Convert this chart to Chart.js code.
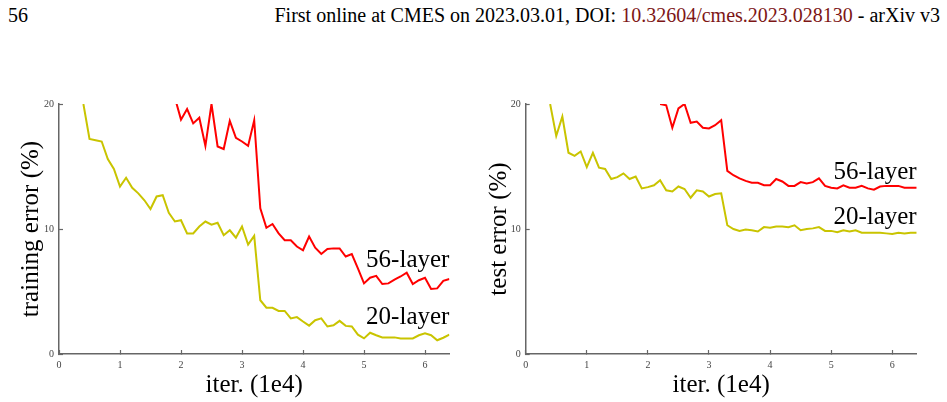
<!DOCTYPE html>
<html>
<head>
<meta charset="utf-8">
<script src="https://cdn.jsdelivr.net/npm/chart.js@4.4.1/dist/chart.umd.min.js"></script>
<style>
  html, body { margin: 0; padding: 0; background: #fff; }
  body { width: 947px; height: 402px; position: relative; overflow: hidden; font-family: "Liberation Serif", serif; }
  .hdr { position: absolute; top: 4px; font-size: 20px; line-height: 23px; color: #000; white-space: nowrap; }
  #pg { left: 8px; }
  #info { right: 7px; }
  #info .doi { color: #7d1616; }
  .box { position: absolute; top: 80px; }
  #boxL { left: 0; width: 470px; height: 322px; }
  #boxR { left: 470px; width: 477px; height: 322px; }
</style>
</head>
<body>
<div class="hdr" id="pg">56</div>
<div class="hdr" id="info">First online at CMES on 2023.03.01, DOI: <span class="doi">10.32604/cmes.2023.028130</span> - arXiv v3</div>
<div class="box" id="boxL"><canvas id="cL" width="470" height="322"></canvas></div>
<div class="box" id="boxR"><canvas id="cR" width="477" height="322"></canvas></div>
<script>
// ---- data (iterations in units of 1e4, error in %) ----
const iter20 = [0.4,0.5,0.6,0.7,0.8,0.9,1.0,1.1,1.2,1.3,1.4,1.5,1.6,1.7,1.8,1.9,2.0,2.1,2.2,2.3,2.4,2.5,2.6,2.7,2.8,2.9,3.0,3.1,3.2,3.3,3.4,3.5,3.6,3.7,3.8,3.9,4.0,4.1,4.2,4.3,4.4,4.5,4.6,4.7,4.8,4.9,5.0,5.1,5.2,5.3,5.4,5.5,5.6,5.7,5.8,5.9,6.0,6.1,6.2,6.3,6.4];
const iterTrain56 = [1.9,2.0,2.1,2.2,2.3,2.4,2.5,2.6,2.7,2.8,2.9,3.0,3.1,3.2,3.3,3.4,3.5,3.6,3.7,3.8,3.9,4.0,4.1,4.2,4.3,4.4,4.5,4.6,4.7,4.8,4.9,5.0,5.1,5.2,5.3,5.4,5.5,5.6,5.7,5.8,5.9,6.0,6.1,6.2,6.3,6.4];
const iterTest56 = [2.2,2.3,2.4,2.5,2.6,2.7,2.8,2.9,3.0,3.1,3.2,3.3,3.4,3.5,3.6,3.7,3.8,3.9,4.0,4.1,4.2,4.3,4.4,4.5,4.6,4.7,4.8,4.9,5.0,5.1,5.2,5.3,5.4,5.5,5.6,5.7,5.8,5.9,6.0,6.1,6.2,6.3,6.4];

const train20 = [20.0,17.2,17.1,17.0,15.6,14.8,13.4,14.1,13.3,12.85,12.3,11.6,12.6,12.7,11.3,10.6,10.7,9.65,9.65,10.2,10.6,10.35,10.5,9.5,9.9,9.3,10.2,8.75,9.45,4.3,3.7,3.7,3.45,3.45,2.85,2.95,2.6,2.27,2.7,2.85,2.2,2.3,2.65,2.25,2.2,1.55,1.25,1.7,1.5,1.33,1.33,1.33,1.25,1.25,1.25,1.5,1.65,1.5,1.1,1.3,1.55];
const train56 = [20.5,18.75,19.6,18.45,18.9,16.65,20.0,16.6,16.4,18.65,17.3,17.0,16.65,18.7,11.65,10.1,10.4,9.65,9.1,9.1,8.6,8.3,9.4,8.5,8.0,8.4,8.45,8.45,7.8,8.0,6.85,5.65,6.1,6.25,5.6,5.65,5.95,6.2,6.5,5.6,5.9,6.1,5.2,5.25,5.85,6.0];
const test20 = [20.0,17.45,19.0,16.1,15.85,16.2,14.95,16.1,14.9,14.8,14.0,14.15,14.45,14.0,14.2,13.25,13.35,13.5,13.9,13.1,13.0,13.4,13.2,12.5,13.1,13.0,12.6,12.8,12.85,10.3,10.0,9.85,9.95,9.9,9.8,10.15,10.1,10.2,10.2,10.15,10.3,9.9,10.0,10.05,10.15,9.85,9.85,9.75,9.9,9.8,9.9,9.7,9.7,9.7,9.7,9.65,9.6,9.7,9.65,9.7,9.7];
const test56 = [20.0,19.9,18.1,19.65,20.0,18.5,18.6,18.1,18.05,18.3,18.7,14.65,14.3,14.05,13.85,13.7,13.7,13.5,13.5,14.0,13.8,13.45,13.45,13.75,13.65,13.75,14.05,13.45,13.3,13.25,13.5,13.3,13.3,13.45,13.25,13.15,13.4,13.45,13.45,13.45,13.3,13.3,13.3];

const xTicks = [0,1,2,3,4,5,6];
const yTicks = [0,10,20];
const seriesNames = ['56-layer', '20-layer'];
// label anchors (x, y in data units) for the in-plot series labels
const trainLabelPos = [[6.4, 7.0], [6.4, 2.4]];
const testLabelPos = [[6.4, 14.0], [6.4, 10.4]];

const RED = '#ff0000';
const OLIVE = '#c9c400';
const AXIS = '#666666';
const SERIF = '"Liberation Serif", "Times New Roman", serif';

function pts(xs, ys) { return xs.map((x, i) => ({ x: x, y: ys[i] })); }

const seriesLabels = {
  id: 'seriesLabels',
  afterDatasetsDraw(chart, args, opts) {
    const ctx = chart.ctx;
    const xs = chart.scales.x, ys = chart.scales.y;
    ctx.save();
    ctx.font = '25px ' + SERIF;
    ctx.fillStyle = '#000';
    ctx.textAlign = 'right';
    ctx.textBaseline = 'alphabetic';
    opts.names.forEach((n, i) => {
      const p = opts.pos[i];
      ctx.fillText(n, xs.getPixelForValue(p[0]), ys.getPixelForValue(p[1]));
    });
    ctx.restore();
  }
};

function makeChart(id, yTitle, d56x, d56, d20x, d20, labelPos, yAxisWidth, padRight, titlePad) {
  return new Chart(document.getElementById(id), {
    type: 'line',
    data: {
      datasets: [
        { label: seriesNames[0], data: pts(d56x, d56), borderColor: RED, borderWidth: 2, pointRadius: 0, tension: 0, fill: false },
        { label: seriesNames[1], data: pts(d20x, d20), borderColor: OLIVE, borderWidth: 2, pointRadius: 0, tension: 0, fill: false }
      ]
    },
    options: {
      responsive: false,
      animation: false,
      devicePixelRatio: 1,
      layout: { padding: { top: 24, right: padRight, left: 0, bottom: 0 } },
      plugins: {
        legend: { display: false },
        tooltip: { enabled: false },
        seriesLabels: { names: seriesNames, pos: labelPos }
      },
      scales: {
        x: {
          type: 'linear', min: 0, max: 6.4,
          afterBuildTicks: s => { s.ticks = xTicks.map(v => ({ value: v })); },
          afterFit: s => { s.height = 48; },
          border: { display: true, color: AXIS, width: 1.5 },
          grid: { drawOnChartArea: false, drawTicks: true, tickLength: -4, color: AXIS, tickWidth: 1.2 },
          ticks: { font: { family: SERIF, size: 10 }, color: '#444', padding: 9, maxRotation: 0, autoSkip: false },
          title: { display: true, text: 'iter. (1e4)', font: { family: SERIF, size: 25 }, color: '#000', padding: { top: 0, bottom: 2 } }
        },
        y: {
          type: 'linear', min: 0, max: 20,
          afterBuildTicks: s => { s.ticks = yTicks.map(v => ({ value: v })); },
          afterFit: s => { s.width = yAxisWidth; },
          border: { display: true, color: AXIS, width: 1.5 },
          grid: { drawOnChartArea: false, drawTicks: true, tickLength: -4, color: AXIS, tickWidth: 1.2 },
          ticks: { font: { family: SERIF, size: 10 }, color: '#444', padding: 9 },
          title: { display: true, text: yTitle, font: { family: SERIF, size: 25 }, color: '#000', padding: { top: titlePad, bottom: 0 } }
        }
      }
    },
    plugins: [seriesLabels]
  });
}

makeChart('cL', 'training error (%)', iterTrain56, train56, iter20, train20, trainLabelPos, 59, 20.6, 16);
makeChart('cR', 'test error (%)', iterTest56, test56, iter20, test20, testLabelPos, 55.7, 30.3, 14);
</script>
</body>
</html>
